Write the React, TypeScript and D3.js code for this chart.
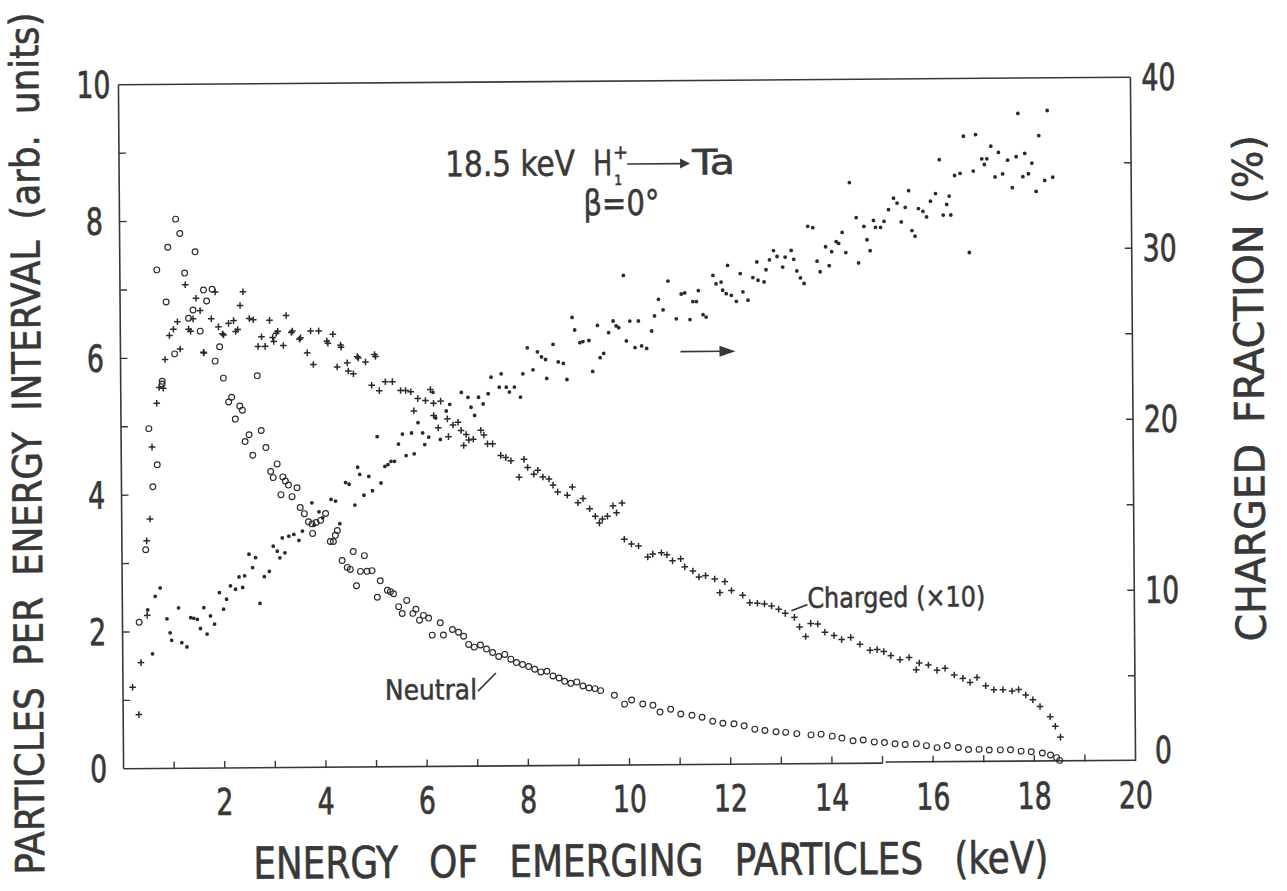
import React from 'react';
import * as d3 from 'd3';

// Neutral particles per energy interval, open circles on the left axis: [keV, arb. units]
const neutral: [number, number][] = [
  [0.33, 2.14], [0.47, 3.2], [0.55, 4.97], [0.62, 4.12], [0.71, 4.44], [0.73, 7.29], [0.82, 5.66], [0.82, 5.62],
  [0.91, 6.82], [0.95, 7.62], [1.07, 6.06], [1.11, 8.03], [1.19, 7.82], [1.28, 7.24], [1.35, 6.58], [1.44, 6.7],
  [1.49, 7.55], [1.58, 6.39], [1.65, 6.99], [1.71, 6.83], [1.82, 7.0], [1.87, 5.95], [1.96, 6.16], [2.03, 5.7],
  [2.13, 5.35], [2.19, 5.42], [2.26, 5.1], [2.35, 5.29], [2.4, 5.23], [2.45, 4.77], [2.53, 4.87], [2.6, 4.57],
  [2.7, 5.73], [2.77, 4.93], [2.86, 4.68], [2.95, 4.33], [3.0, 4.24], [3.08, 4.44], [3.15, 3.99], [3.19, 4.25],
  [3.24, 4.19], [3.3, 4.13], [3.37, 3.96], [3.47, 4.09], [3.53, 3.8], [3.61, 3.71], [3.69, 3.59], [3.76, 3.56],
  [3.77, 3.42], [3.84, 3.58], [3.93, 3.61], [4.03, 3.71], [4.12, 3.3], [4.18, 3.3], [4.22, 3.39], [4.26, 3.46],
  [4.35, 3.02], [4.45, 2.92], [4.51, 2.89], [4.57, 3.15], [4.63, 2.65], [4.71, 2.86], [4.79, 3.09], [4.84, 2.86],
  [4.94, 2.87], [5.04, 2.48], [5.1, 2.72], [5.24, 2.58], [5.3, 2.56], [5.36, 2.53], [5.46, 2.34], [5.53, 2.24],
  [5.62, 2.43], [5.74, 2.24], [5.8, 2.3], [5.87, 2.14], [5.95, 2.21], [6.05, 2.17], [6.12, 1.92], [6.28, 2.1],
  [6.34, 1.92], [6.52, 2.0], [6.64, 1.96], [6.74, 1.9], [6.84, 1.78], [6.95, 1.74], [7.07, 1.77], [7.19, 1.71],
  [7.31, 1.66], [7.43, 1.6], [7.55, 1.63], [7.67, 1.56], [7.78, 1.51], [7.9, 1.48], [8.02, 1.45], [8.14, 1.41],
  [8.26, 1.37], [8.38, 1.38], [8.5, 1.31], [8.62, 1.28], [8.73, 1.23], [8.85, 1.2], [8.97, 1.22], [9.09, 1.16],
  [9.21, 1.13], [9.33, 1.12], [9.44, 1.09], [9.71, 1.02], [9.91, 0.89], [10.05, 0.95], [10.27, 0.89], [10.47, 0.87],
  [10.61, 0.77], [10.82, 0.81], [11.02, 0.74], [11.24, 0.72], [11.44, 0.69], [11.65, 0.63], [11.85, 0.6], [12.07, 0.59],
  [12.27, 0.56], [12.48, 0.51], [12.68, 0.49], [12.9, 0.47], [13.09, 0.46], [13.31, 0.44], [13.59, 0.42], [13.79, 0.43],
  [14.01, 0.4], [14.2, 0.37], [14.42, 0.33], [14.62, 0.34], [14.84, 0.31], [15.04, 0.3], [15.25, 0.28], [15.45, 0.27],
  [15.67, 0.28], [15.87, 0.25], [16.08, 0.22], [16.28, 0.25], [16.5, 0.22], [16.7, 0.19], [16.91, 0.19], [17.11, 0.18],
  [17.33, 0.18], [17.53, 0.18], [17.74, 0.16], [17.94, 0.15], [18.16, 0.13], [18.32, 0.1], [18.44, 0.06], [18.5, 0.02],
];

// Charged particles (x10), plus signs on the left axis: [keV, arb. units]
const charged: [number, number][] = [
  [0.19, 1.19], [0.31, 0.79], [0.36, 1.55], [0.49, 2.24], [0.49, 3.33], [0.56, 3.65], [0.61, 4.7], [0.71, 5.34],
  [0.76, 5.57], [0.84, 5.56], [0.88, 5.98], [0.97, 6.33], [1.05, 6.42], [1.13, 6.53], [1.18, 6.13], [1.29, 7.07],
  [1.35, 6.42], [1.39, 6.39], [1.44, 6.57], [1.5, 6.87], [1.58, 6.69], [1.64, 6.08], [1.65, 6.07], [1.8, 6.57],
  [1.88, 6.96], [1.94, 6.45], [2.02, 6.35], [2.04, 6.33], [2.14, 6.5], [2.24, 6.54], [2.28, 6.38], [2.32, 6.41],
  [2.37, 6.76], [2.43, 6.96], [2.55, 6.57], [2.63, 6.55], [2.72, 6.16], [2.79, 6.3], [2.86, 6.16], [2.95, 6.54],
  [3.01, 6.29], [3.03, 6.23], [3.08, 6.35], [3.11, 6.38], [3.22, 6.17], [3.28, 6.61], [3.38, 6.36], [3.4, 6.38],
  [3.54, 6.26], [3.56, 6.28], [3.69, 6.06], [3.76, 6.38], [3.81, 5.89], [3.92, 6.38], [4.08, 6.23], [4.1, 6.2],
  [4.2, 6.33], [4.28, 5.85], [4.35, 6.17], [4.36, 6.14], [4.48, 5.91], [4.5, 5.79], [4.6, 5.75], [4.68, 6.0],
  [4.7, 5.98], [4.84, 5.92], [4.96, 5.58], [5.02, 6.03], [5.04, 6.0], [5.11, 5.5], [5.23, 5.63], [5.37, 5.63],
  [5.53, 5.5], [5.63, 5.5], [5.73, 5.48], [5.79, 5.2], [5.87, 5.38], [6.02, 5.35], [6.12, 5.51], [6.18, 5.31],
  [6.18, 5.13], [6.27, 4.95], [6.32, 5.34], [6.45, 5.08], [6.47, 4.82], [6.56, 4.99], [6.66, 5.03], [6.72, 4.91],
  [6.77, 4.69], [6.82, 4.85], [6.87, 4.77], [6.96, 4.78], [7.11, 4.91], [7.17, 4.84], [7.24, 4.71], [7.34, 4.71],
  [7.5, 4.54], [7.6, 4.51], [7.7, 4.46], [7.86, 4.22], [7.96, 4.48], [8.03, 4.36], [8.15, 4.26], [8.23, 4.32],
  [8.33, 4.22], [8.45, 4.19], [8.53, 4.1], [8.62, 4.0], [8.81, 3.95], [8.91, 4.07], [9.02, 3.84], [9.12, 3.9],
  [9.25, 3.75], [9.36, 3.64], [9.44, 3.54], [9.5, 3.6], [9.6, 3.64], [9.71, 3.79], [9.78, 3.69], [9.89, 3.83],
  [9.93, 3.3], [10.07, 3.23], [10.21, 3.2], [10.39, 3.04], [10.49, 3.08], [10.66, 3.1], [10.77, 3.07], [10.88, 2.98],
  [11.04, 3.01], [11.12, 2.89], [11.28, 2.83], [11.4, 2.74], [11.53, 2.76], [11.71, 2.71], [11.81, 2.51], [11.91, 2.67],
  [12.04, 2.54], [12.26, 2.47], [12.4, 2.36], [12.55, 2.35], [12.69, 2.34], [12.83, 2.31], [12.97, 2.26], [13.1, 2.2],
  [13.28, 2.14], [13.38, 2.0], [13.5, 1.86], [13.6, 2.05], [13.74, 2.04], [13.88, 1.92], [14.06, 1.87], [14.21, 1.81],
  [14.39, 1.84], [14.57, 1.74], [14.77, 1.65], [14.91, 1.66], [15.04, 1.63], [15.18, 1.57], [15.36, 1.51], [15.54, 1.54],
  [15.68, 1.36], [15.74, 1.46], [15.92, 1.43], [16.09, 1.35], [16.25, 1.38], [16.43, 1.28], [16.6, 1.23], [16.74, 1.17],
  [16.88, 1.24], [17.05, 1.12], [17.21, 1.06], [17.39, 1.06], [17.57, 1.04], [17.7, 1.06], [17.84, 0.98], [17.98, 0.91],
  [18.12, 0.81], [18.32, 0.66], [18.42, 0.52], [18.52, 0.36],
];

// Charged fraction in percent, filled dots on the right axis: [keV, %]
const fraction: [number, number][] = [
  [0.5, 9.28], [0.59, 6.71], [0.65, 10.07], [0.75, 10.56], [0.88, 8.75], [0.94, 7.93], [0.97, 7.49], [1.11, 9.39],
  [1.17, 7.35], [1.27, 7.1], [1.35, 8.81], [1.41, 8.77], [1.48, 8.71], [1.54, 8.17], [1.61, 9.39], [1.67, 7.84],
  [1.74, 8.9], [1.82, 8.42], [1.92, 10.26], [2.0, 9.29], [2.06, 9.87], [2.14, 10.65], [2.24, 10.45], [2.31, 11.17],
  [2.38, 10.55], [2.42, 11.23], [2.51, 12.49], [2.58, 11.71], [2.64, 12.29], [2.72, 9.61], [2.81, 11.17], [2.91, 11.48],
  [2.99, 12.95], [3.07, 12.66], [3.12, 12.27], [3.17, 13.43], [3.22, 12.56], [3.3, 13.53], [3.4, 13.63], [3.5, 13.28],
  [3.57, 13.82], [3.76, 15.47], [3.8, 14.15], [3.9, 14.94], [3.97, 14.59], [4.14, 15.66], [4.23, 15.56], [4.31, 14.24],
  [4.43, 16.64], [4.5, 16.54], [4.61, 15.32], [4.67, 17.53], [4.71, 17.11], [4.79, 15.89], [4.89, 16.99], [4.96, 16.15],
  [5.06, 19.31], [5.13, 16.6], [5.21, 17.57], [5.27, 17.67], [5.33, 17.86], [5.4, 17.86], [5.48, 18.87], [5.56, 19.45],
  [5.63, 18.19], [5.74, 19.51], [5.79, 18.29], [5.87, 20.11], [5.96, 19.51], [6.0, 18.83], [6.08, 19.26], [6.17, 21.88],
  [6.22, 20.38], [6.31, 19.12], [6.43, 20.78], [6.5, 21.17], [6.73, 21.86], [6.86, 21.57], [6.92, 20.99], [6.99, 20.51],
  [7.07, 21.57], [7.16, 21.18], [7.26, 21.77], [7.32, 22.74], [7.48, 22.15], [7.52, 22.93], [7.62, 22.15], [7.68, 21.86],
  [7.78, 22.15], [7.9, 21.56], [7.95, 22.92], [8.04, 24.44], [8.15, 23.15], [8.24, 24.2], [8.32, 23.9], [8.4, 23.75],
  [8.42, 22.64], [8.55, 24.63], [8.65, 23.6], [8.75, 23.51], [8.82, 22.57], [8.93, 26.2], [8.98, 25.46], [9.08, 24.72],
  [9.14, 24.78], [9.26, 24.84], [9.33, 23.03], [9.43, 25.72], [9.48, 23.83], [9.55, 24.08], [9.65, 25.29], [9.74, 25.97],
  [9.8, 25.68], [9.85, 25.58], [9.95, 28.63], [10.0, 24.8], [10.07, 25.96], [10.17, 24.41], [10.24, 25.96], [10.3, 24.5],
  [10.4, 24.35], [10.5, 25.37], [10.56, 26.25], [10.64, 27.22], [10.73, 26.6], [10.83, 28.28], [10.99, 26.07], [11.09, 27.52],
  [11.16, 27.58], [11.26, 26.02], [11.32, 27.07], [11.39, 27.07], [11.43, 27.71], [11.52, 26.3], [11.58, 26.16], [11.72, 28.59],
  [11.78, 28.1], [11.88, 28.2], [11.91, 27.72], [11.98, 27.52], [12.01, 29.17], [12.08, 27.42], [12.18, 27.07], [12.26, 28.69],
  [12.31, 27.62], [12.41, 27.13], [12.51, 28.45], [12.59, 29.36], [12.61, 28.29], [12.73, 28.19], [12.77, 28.9], [12.84, 29.48],
  [12.92, 30.02], [12.99, 29.67], [13.1, 29.05], [13.15, 29.63], [13.27, 30.02], [13.32, 29.5], [13.38, 28.82], [13.45, 28.41],
  [13.52, 28.08], [13.6, 31.42], [13.7, 31.34], [13.78, 29.38], [13.84, 28.76], [13.95, 30.22], [14.02, 29.11], [14.07, 29.93],
  [14.16, 30.51], [14.21, 30.41], [14.28, 31.05], [14.35, 29.87], [14.43, 33.96], [14.56, 31.91], [14.6, 29.26], [14.71, 31.39],
  [14.77, 30.61], [14.83, 29.97], [14.9, 31.74], [14.94, 31.33], [15.04, 31.33], [15.11, 31.68], [15.2, 32.36], [15.3, 33.03],
  [15.37, 32.74], [15.45, 31.64], [15.53, 32.49], [15.6, 33.46], [15.66, 31.13], [15.72, 30.8], [15.79, 32.41], [15.88, 32.25],
  [15.95, 31.92], [16.03, 32.84], [16.13, 33.28], [16.21, 35.26], [16.28, 32.02], [16.35, 32.64], [16.4, 33.13], [16.43, 32.02],
  [16.51, 34.33], [16.62, 34.45], [16.69, 36.62], [16.79, 29.82], [16.88, 34.58], [16.93, 36.71], [17.05, 35.29], [17.1, 34.96],
  [17.15, 35.29], [17.23, 36.03], [17.31, 34.23], [17.38, 35.66], [17.46, 34.4], [17.56, 35.2], [17.65, 33.59], [17.73, 35.4],
  [17.77, 37.93], [17.86, 34.23], [17.9, 35.59], [17.97, 34.4], [18.04, 35.02], [18.12, 33.36], [18.18, 36.62], [18.29, 34.0],
  [18.35, 38.09], [18.45, 34.19],
];

// Axis ticks and labels
const xMinorTicks = [1, 2, 3, 4, 5, 6, 7, 8, 9, 10, 11, 12, 13, 14, 15, 16, 17, 18, 19];
const xLabels = [2, 4, 6, 8, 10, 12, 14, 16, 18, 20];
const leftTicks = [1, 2, 3, 4, 5, 6, 7, 8, 9];
const leftLabels = [0, 2, 4, 6, 8, 10];
const rightTicks = [5, 10, 15, 20, 25, 30, 35];
const rightLabels = [0, 10, 20, 30, 40];

const W = 1287;
const H = 891;
const M = { left: 121, right: 1133, top: 81, bottom: 765 };
const INK = '#383838';
const MARK = '#2a2a2a';
const FONT = "'DejaVu Sans Condensed', 'DejaVu Sans', sans-serif";

// narrow stencil-style numerals: squeeze each label to a fixed width per digit
const numWidth = (v: number) => String(v).length * 17;

export default function App() {
  const x = d3.scaleLinear().domain([0, 20]).range([M.left, M.right]);
  const yL = d3.scaleLinear().domain([0, 10]).range([M.bottom, M.top]);
  const yR = d3.scaleLinear().domain([0, 40]).range([M.bottom, M.top]);
  const tick = 7;
  const plusPath = 'M-3.3,0H3.3M0,-3.3V3.3';
  const xBreak = x(15);

  return (
    <svg
      width={W}
      height={H}
      viewBox={`0 0 ${W} ${H}`}
      style={{ position: 'absolute', left: 0, top: 0, background: '#fff' }}
      fontFamily={FONT}
    >
      <rect width={W} height={H} fill="#fff" />
      <g transform={`rotate(-0.43, 627, 423)`}>
        {/* frame */}
        <g stroke={INK} strokeWidth={1.6} fill="none">
          <line x1={M.left} y1={M.top} x2={M.right} y2={M.top} />
          <line x1={M.left} y1={M.top} x2={M.left} y2={M.bottom} />
          <line x1={M.right} y1={M.top} x2={M.right} y2={M.bottom} />
          <line x1={M.left} y1={M.bottom} x2={xBreak} y2={M.bottom} />
          <line x1={xBreak + 3} y1={M.bottom - 1} x2={M.right} y2={M.bottom - 1} />
        </g>
        {/* ticks, all pointing into the plot */}
        <g stroke={INK} strokeWidth={1.4}>
          {xMinorTicks.map((v) => (
            <line key={'xt' + v} x1={x(v)} x2={x(v)} y1={M.bottom} y2={M.bottom - tick} />
          ))}
          {leftTicks.map((v) => (
            <line key={'lt' + v} x1={M.left} x2={M.left + tick} y1={yL(v)} y2={yL(v)} />
          ))}
          {rightTicks.map((v) => (
            <line key={'rt' + v} x1={M.right} x2={M.right - tick} y1={yR(v)} y2={yR(v)} />
          ))}
        </g>
        {/* tick labels */}
        <g fill={INK} stroke={INK} strokeWidth={0.7} fontSize={37}>
          {xLabels.map((v) => (
            <text
              key={'xl' + v}
              x={x(v) - numWidth(v) / 2}
              y={812}
              textLength={numWidth(v)}
              lengthAdjust="spacingAndGlyphs"
            >
              {v}
            </text>
          ))}
          {leftLabels.map((v) => (
            <text
              key={'ll' + v}
              x={96 - numWidth(v) / 2}
              y={yL(v) + 13}
              textLength={numWidth(v)}
              lengthAdjust="spacingAndGlyphs"
            >
              {v}
            </text>
          ))}
          {rightLabels.map((v) => (
            <text
              key={'rl' + v}
              x={1161 - numWidth(v) / 2}
              y={yR(v) + 13 - (v === 0 ? 11 : 0)}
              textLength={numWidth(v)}
              lengthAdjust="spacingAndGlyphs"
            >
              {v}
            </text>
          ))}
        </g>
        {/* axis titles */}
        <g fill={INK} stroke={INK} strokeWidth={0.6}>
          <text x={250} y={876} fontSize={44} textLength={795} lengthAdjust="spacingAndGlyphs" wordSpacing={22}>
            ENERGY OF EMERGING PARTICLES (keV)
          </text>
          <text
            transform="translate(41,870) rotate(-90)"
            fontSize={40}
            textLength={862}
            lengthAdjust="spacingAndGlyphs"
            wordSpacing={10}
          >
            PARTICLES PER ENERGY INTERVAL (arb. units)
          </text>
          <text
            transform="translate(1264,646) rotate(-90)"
            fontSize={41}
            textLength={506}
            lengthAdjust="spacingAndGlyphs"
            wordSpacing={8}
          >
            CHARGED FRACTION (%)
          </text>
        </g>
        {/* data */}
        <g fill={MARK}>
          {fraction.map(([e, f], i) => (
            <circle key={'f' + i} cx={x(e)} cy={yR(f)} r={1.9} />
          ))}
        </g>
        <g stroke={MARK} strokeWidth={1.5} fill="none">
          {charged.map(([e, c], i) => (
            <path key={'c' + i} d={plusPath} transform={`translate(${x(e)},${yL(c)})`} />
          ))}
        </g>
        <g stroke={MARK} strokeWidth={1.15} fill="none">
          {neutral.map(([e, n], i) => (
            <circle key={'n' + i} cx={x(e)} cy={yL(n)} r={2.9} />
          ))}
        </g>
        {/* annotations */}
        <g fill={INK} stroke={INK} strokeWidth={0.5}>
          <text x={447} y={175} fontSize={35} textLength={130} lengthAdjust="spacingAndGlyphs">18.5 keV</text>
          <text fontSize={35}>
            <tspan x={595} y={175} textLength={19} lengthAdjust="spacingAndGlyphs">H</tspan>
            <tspan x={615} y={159} fontSize={20}>+</tspan>
            <tspan x={616} y={185} fontSize={14}>1</tspan>
          </text>
          <text x={694} y={175} fontSize={35} textLength={43} lengthAdjust="spacingAndGlyphs">Ta</text>
          <text x={585} y={215} fontSize={35} textLength={76} lengthAdjust="spacingAndGlyphs">β=0°</text>
          <text x={806} y={609} fontSize={28} textLength={178} lengthAdjust="spacingAndGlyphs">Charged (×10)</text>
          <text x={383} y={698} fontSize={28} textLength={92} lengthAdjust="spacingAndGlyphs">Neutral</text>
        </g>
        <g stroke={INK} strokeWidth={1.7} fill="none">
          <line x1={629} y1={164} x2={684} y2={164} />
          <line x1={681} y1={352} x2={724} y2={352} />
          <line x1={790} y1={612} x2={806} y2={606} />
          <line x1={476} y1={690} x2={494} y2={672} />
        </g>
        <g fill={INK}>
          <path d="M682,159 L692,164 L682,169 Z" />
          <path d="M720,346.5 L736,352 L720,357.5 Z" />
        </g>
      </g>
    </svg>
  );
}
